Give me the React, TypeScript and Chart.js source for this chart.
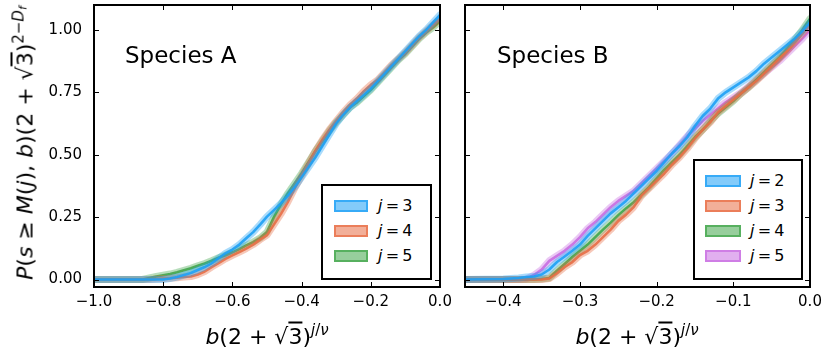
import React, { useEffect, useRef } from 'react';
import { Chart, registerables } from 'chart.js';
Chart.register(...registerables);

// ---------- Species A ----------
const A_X = [-1.0, -0.86, -0.84, -0.82, -0.80, -0.78, -0.76, -0.74, -0.72, -0.70, -0.68, -0.66, -0.64, -0.62, -0.60, -0.58, -0.56, -0.54, -0.52, -0.50, -0.48, -0.46, -0.44, -0.42, -0.40, -0.38, -0.36, -0.34, -0.32, -0.30, -0.28, -0.26, -0.24, -0.22, -0.20, -0.18, -0.16, -0.14, -0.12, -0.10, -0.08, -0.06, -0.04, -0.02, 0.0];
const A_J3 = [0, 0, 0, 0, 0, 0.004, 0.010, 0.018, 0.026, 0.038, 0.050, 0.065, 0.085, 0.105, 0.120, 0.140, 0.165, 0.190, 0.220, 0.252, 0.278, 0.305, 0.335, 0.370, 0.410, 0.450, 0.490, 0.535, 0.580, 0.625, 0.660, 0.690, 0.715, 0.740, 0.765, 0.795, 0.825, 0.855, 0.885, 0.915, 0.945, 0.975, 1.000, 1.030, 1.060];
const A_J4 = [0, 0, 0, 0.002, 0.004, 0.005, 0.007, 0.010, 0.012, 0.020, 0.032, 0.050, 0.066, 0.083, 0.097, 0.110, 0.124, 0.140, 0.160, 0.178, 0.220, 0.262, 0.310, 0.365, 0.415, 0.465, 0.515, 0.560, 0.600, 0.635, 0.670, 0.700, 0.725, 0.755, 0.780, 0.800, 0.830, 0.860, 0.885, 0.910, 0.940, 0.970, 0.995, 1.020, 1.045];
const A_J5 = [0, 0, 0.006, 0.012, 0.017, 0.022, 0.029, 0.037, 0.045, 0.055, 0.064, 0.075, 0.087, 0.097, 0.109, 0.122, 0.137, 0.150, 0.166, 0.190, 0.250, 0.300, 0.345, 0.385, 0.425, 0.470, 0.515, 0.555, 0.595, 0.630, 0.660, 0.690, 0.710, 0.735, 0.760, 0.790, 0.820, 0.850, 0.880, 0.905, 0.935, 0.965, 0.990, 1.010, 1.035];
const A_J = [3, 4, 5];
const A_X_TICKS = [-1.0, -0.8, -0.6, -0.4, -0.2, 0.0];

// ---------- Species B ----------
const B_X = [-0.45, -0.40, -0.38, -0.37, -0.36, -0.35, -0.34, -0.33, -0.32, -0.31, -0.30, -0.29, -0.28, -0.27, -0.26, -0.25, -0.24, -0.23, -0.22, -0.21, -0.20, -0.19, -0.18, -0.17, -0.16, -0.15, -0.14, -0.13, -0.12, -0.11, -0.10, -0.09, -0.08, -0.07, -0.06, -0.05, -0.04, -0.03, -0.02, -0.01, 0.0];
const B_J2 = [0, 0.002, 0.006, 0.010, 0.012, 0.020, 0.040, 0.070, 0.092, 0.115, 0.140, 0.175, 0.205, 0.235, 0.265, 0.290, 0.315, 0.345, 0.375, 0.405, 0.435, 0.470, 0.505, 0.535, 0.570, 0.615, 0.655, 0.685, 0.725, 0.750, 0.770, 0.790, 0.810, 0.835, 0.865, 0.890, 0.915, 0.940, 0.965, 0.995, 1.030];
const B_J3 = [0, 0, 0, 0, 0, 0, 0.004, 0.025, 0.050, 0.070, 0.098, 0.115, 0.140, 0.170, 0.200, 0.235, 0.260, 0.290, 0.335, 0.365, 0.395, 0.425, 0.460, 0.490, 0.525, 0.565, 0.600, 0.630, 0.670, 0.695, 0.720, 0.745, 0.770, 0.795, 0.825, 0.855, 0.885, 0.915, 0.950, 0.985, 1.020];
const B_J4 = [0, 0, 0, 0, 0, 0.002, 0.006, 0.035, 0.062, 0.090, 0.115, 0.140, 0.170, 0.200, 0.228, 0.258, 0.285, 0.310, 0.340, 0.370, 0.405, 0.440, 0.470, 0.500, 0.535, 0.570, 0.600, 0.635, 0.665, 0.690, 0.715, 0.745, 0.770, 0.800, 0.830, 0.860, 0.890, 0.925, 0.960, 1.000, 1.045];
const B_J5 = [0, 0, 0, 0.002, 0.018, 0.040, 0.075, 0.095, 0.115, 0.140, 0.170, 0.205, 0.230, 0.260, 0.290, 0.315, 0.335, 0.355, 0.385, 0.415, 0.445, 0.475, 0.505, 0.540, 0.575, 0.605, 0.635, 0.660, 0.685, 0.710, 0.730, 0.750, 0.775, 0.800, 0.825, 0.850, 0.875, 0.905, 0.935, 0.965, 1.000];
const B_J = [2, 3, 4, 5];
const B_X_TICKS = [-0.4, -0.3, -0.2, -0.1, 0.0];

const Y_TICKS = [0, 0.25, 0.5, 0.75, 1.0];

const BLUE = [30, 160, 245];
const ORANGE = [232, 110, 70];
const GREEN = [65, 165, 75];
const PURPLE = [200, 110, 225];

const rgba = (c: number[], a: number) => `rgba(${c[0]},${c[1]},${c[2]},${a})`;
const fmtX = (v: number) => (v < -1e-9 ? '\u2212' : '') + Math.abs(v).toFixed(1);
const fmtY = (v: number) => v.toFixed(2);

const framePlugin = {
  id: 'frameTicks',
  afterDatasetsDraw(chart: any) {
    const { ctx, chartArea } = chart;
    const { left, right, top, bottom } = chartArea;
    const xs = chart.scales.x;
    const ys = chart.scales.y;
    const L = 5;
    ctx.save();
    ctx.strokeStyle = '#000';
    ctx.lineWidth = 1;
    ctx.beginPath();
    xs.ticks.forEach((t: any) => {
      const p = Math.round(xs.getPixelForValue(t.value)) + 0.5;
      ctx.moveTo(p, bottom);
      ctx.lineTo(p, bottom - L);
      ctx.moveTo(p, top);
      ctx.lineTo(p, top + L);
    });
    ys.ticks.forEach((t: any) => {
      const p = Math.round(ys.getPixelForValue(t.value)) + 0.5;
      ctx.moveTo(left, p);
      ctx.lineTo(left + L, p);
      ctx.moveTo(right, p);
      ctx.lineTo(right - L, p);
    });
    ctx.stroke();
    ctx.lineWidth = 2;
    ctx.strokeRect(left, top, right - left, bottom - top);
    ctx.restore();
  },
};

function makeChart(
  canvas: HTMLCanvasElement,
  xs: number[],
  series: number[][],
  colors: number[][],
  xTicks: number[],
  xMin: number,
  padLeft: number,
  padRight: number,
  yWidth: number,
  showY: boolean
) {
  const datasets: any[] = [];
  series.forEach((ys, i) => {
    const data = xs.map((x, k) => ({ x, y: ys[k] }));
    datasets.push({
      data,
      borderColor: rgba(colors[i], 0.38),
      borderWidth: 7,
      pointRadius: 0,
      tension: 0,
      fill: false,
      borderJoinStyle: 'round',
      borderCapStyle: 'round',
    });
    datasets.push({
      data,
      borderColor: rgba(colors[i], 0.9),
      borderWidth: 2.6,
      pointRadius: 0,
      tension: 0,
      fill: false,
      borderJoinStyle: 'round',
      borderCapStyle: 'round',
    });
  });
  return new Chart(canvas, {
    type: 'line',
    data: { datasets },
    plugins: [framePlugin],
    options: {
      animation: false,
      responsive: false,
      events: [],
      layout: { padding: { left: padLeft, right: padRight, top: 5, bottom: 0 } },
      plugins: { legend: { display: false }, tooltip: { enabled: false } },
      scales: {
        x: {
          type: 'linear',
          min: xMin,
          max: 0,
          grid: { display: false, drawTicks: false },
          border: { display: false },
          afterBuildTicks: (s: any) => {
            s.ticks = xTicks.map((v) => ({ value: v }));
          },
          afterFit: (s: any) => {
            s.height = 73;
            s.paddingLeft = 0;
            s.paddingRight = 0;
          },
          ticks: {
            padding: 6,
            color: '#000',
            font: { family: '"DejaVu Sans"', size: 15 },
            maxRotation: 0,
            autoSkip: false,
            callback: (v: any) => fmtX(Number(v)),
          },
        },
        y: {
          type: 'linear',
          min: -0.03,
          max: 1.1,
          grid: { display: false, drawTicks: false },
          border: { display: false },
          afterBuildTicks: (s: any) => {
            s.ticks = Y_TICKS.map((v) => ({ value: v }));
          },
          afterFit: (s: any) => {
            s.width = yWidth;
            s.paddingTop = 0;
            s.paddingBottom = 0;
          },
          ticks: {
            display: showY,
            padding: 12,
            color: '#000',
            font: { family: '"DejaVu Sans"', size: 15 },
            autoSkip: false,
            callback: (v: any) => fmtY(Number(v)),
          },
        },
      },
    } as any,
  });
}

const Sqrt3 = () => (
  <span>
    √<span style={{ textDecoration: 'overline' }}>3</span>
  </span>
);

function XTitle({ cx }: { cx: number }) {
  return (
    <div
      style={{
        position: 'absolute',
        left: cx,
        top: 333,
        transform: 'translate(-50%,-50%)',
        fontSize: 22,
        lineHeight: '26px',
        whiteSpace: 'nowrap',
      }}
    >
      <i>b</i>(2 + <Sqrt3 />)
      <sup style={{ fontSize: 15, verticalAlign: '9px' }}>
        <i>j</i>/<i>ν</i>
      </sup>
    </div>
  );
}

function YTitle() {
  return (
    <div
      style={{
        position: 'absolute',
        left: 22,
        top: 143,
        transform: 'translate(-50%,-50%) rotate(-90deg)',
        fontSize: 22,
        lineHeight: '26px',
        whiteSpace: 'nowrap',
      }}
    >
      <i>P</i>(<i>s</i> ≥ <i>M</i>(<i>j</i>), <i>b</i>)(2 + <Sqrt3 />)
      <sup style={{ fontSize: 15, verticalAlign: '9px' }}>
        2−<i>D</i>
        <sub style={{ fontSize: 11, fontStyle: 'italic', verticalAlign: '-3px' }}>f</sub>
      </sup>
    </div>
  );
}

function Legend({
  left,
  top,
  width,
  height,
  js,
  colors,
  patchLeft,
  patchWidth,
}: {
  left: number;
  top: number;
  width: number;
  height: number;
  js: number[];
  colors: number[][];
  patchLeft: number;
  patchWidth: number;
}) {
  return (
    <div
      style={{
        position: 'absolute',
        left,
        top,
        width,
        height,
        border: '2px solid #000',
        boxSizing: 'border-box',
        background: '#fff',
      }}
    >
      {js.map((j, i) => (
        <React.Fragment key={j}>
          <div
            style={{
              position: 'absolute',
              left: patchLeft - 2,
              top: 22 + i * 25 - 6 - 2,
              width: patchWidth,
              height: 12,
              background: rgba(colors[i], 0.55),
              border: `2px solid ${rgba(colors[i], 0.75)}`,
              boxSizing: 'border-box',
            }}
          />
          <div
            style={{
              position: 'absolute',
              left: 57 - 2,
              top: 22 + i * 25 - 10 - 2,
              height: 20,
              lineHeight: '20px',
              fontSize: 16,
              whiteSpace: 'nowrap',
            }}
          >
            <i>j</i>{'\u2009=\u2009'}{j}
          </div>
        </React.Fragment>
      ))}
    </div>
  );
}

export default function App() {
  const refA = useRef<HTMLCanvasElement>(null);
  const refB = useRef<HTMLCanvasElement>(null);
  useEffect(() => {
    const a = makeChart(refA.current!, A_X, [A_J3, A_J4, A_J5], [BLUE, ORANGE, GREEN], A_X_TICKS, -1.0, 0, 390, 94, true);
    const b = makeChart(refB.current!, B_X, [B_J2, B_J3, B_J4, B_J5], [BLUE, ORANGE, GREEN, PURPLE], B_X_TICKS, -0.45, 465, 20, 0, false);
    return () => {
      a.destroy();
      b.destroy();
    };
  }, []);
  const cv: React.CSSProperties = { position: 'absolute', left: 0, top: 0, width: 830, height: 360 };
  return (
    <div
      style={{
        position: 'fixed',
        left: 0,
        top: 0,
        width: 830,
        height: 360,
        background: '#fff',
        fontFamily: '"DejaVu Sans", sans-serif',
        color: '#000',
        overflow: 'hidden',
      }}
    >
      <canvas ref={refA} width={830} height={360} style={cv} />
      <canvas ref={refB} width={830} height={360} style={cv} />
      <div style={{ position: 'absolute', left: 125, top: 55, transform: 'translateY(-50%)', fontSize: 23, whiteSpace: 'nowrap' }}>
        Species A
      </div>
      <div style={{ position: 'absolute', left: 497, top: 55, transform: 'translateY(-50%)', fontSize: 23, whiteSpace: 'nowrap' }}>
        Species B
      </div>
      <Legend left={321} top={184} width={111} height={96} js={A_J} colors={[BLUE, ORANGE, GREEN]} patchLeft={13} patchWidth={34} />
      <Legend left={693} top={159} width={110} height={121} js={B_J} colors={[BLUE, ORANGE, GREEN, PURPLE]} patchLeft={12} patchWidth={36} />
      <XTitle cx={267} />
      <XTitle cx={637} />
      <YTitle />
    </div>
  );
}
